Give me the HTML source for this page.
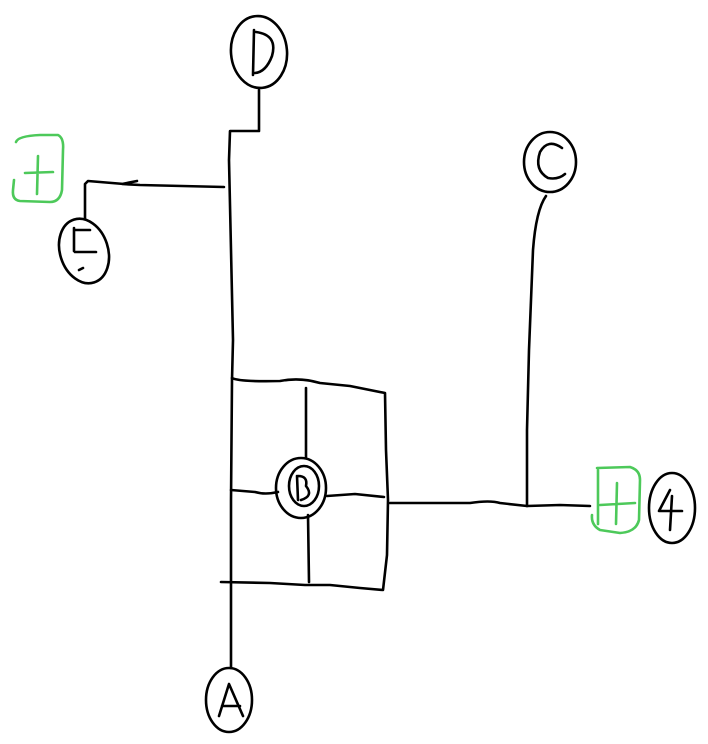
<!DOCTYPE html>
<html><head><style>html,body{margin:0;padding:0;background:#fff}svg{display:block}</style></head>
<body>
<svg width="708" height="744" viewBox="0 0 708 744" xmlns="http://www.w3.org/2000/svg">
<g fill="none" stroke="#000" stroke-width="2.6" stroke-linecap="round" stroke-linejoin="round">
<!-- D -->
<ellipse cx="259" cy="52" rx="28" ry="36" transform="rotate(-5 259 52)"/>
<path d="M254 30 L253 75 M256 32 Q278 35 272 56 Q266 72 255 73"/>
<path d="M259 90 L259 131 L230 131 L229 160 L231 250 L233 340 L232 380 L231 500 L231 600 L231 668"/>
<!-- to E -->
<path d="M224 187 L140 185 L122 184 L137 181 M124 184 L88 181 L85 184 L85 218"/>
<ellipse cx="84" cy="251" rx="24" ry="33" transform="rotate(-18 84 251)"/>
<path d="M74 228 L74 251 M74 230 L90 230 M75 252 L96 252 M79 270 L83 268"/>
<!-- C -->
<ellipse cx="550" cy="162" rx="26" ry="30"/>
<path d="M562 148 Q548 138 540 152 Q534 170 548 178 Q558 180 565 174"/>
<path d="M546 196 Q536 210 533 250 L529 350 L527 430 L527 506"/>
<!-- grid -->
<path d="M232 378 Q240 382 280 381 Q300 377 320 383 L350 386 L385 393 L386 450 L388 500 L387 555 L383 590 L360 588 L330 585 L305 585 L270 583 L221 582"/>
<path d="M231 490 L255 492 Q265 495 278 492"/>
<path d="M327 496 L355 494 L384 497"/>
<path d="M306 388 L306 458"/>
<path d="M308 515 L309 582"/>
<ellipse cx="301" cy="488" rx="25" ry="30"/>
<ellipse cx="304" cy="486" rx="15" ry="20"/>
<path d="M297 476 L298 500 M298 476 Q308 476 306 486 Q314 496 301 500"/>
<!-- right connector -->
<path d="M390 503 L420 503 L470 503 Q490 500 500 503 L527 506 L560 505 L590 506"/>
<!-- A -->
<ellipse cx="229" cy="700" rx="23" ry="32"/>
<path d="M219 716 L229 684 L243 716 M222 706 L240 706"/>
<!-- 4 -->
<ellipse cx="672" cy="508" rx="23" ry="35"/>
<path d="M670 490 L659 511 L682 511 M672 496 L670 530"/>
</g>
<g fill="none" stroke="#4dc95a" stroke-width="2.6" stroke-linecap="round" stroke-linejoin="round">
<path d="M16 142 Q18 136 40 135 L58 135 Q64 138 63 150 L62 190 Q60 202 50 202 L20 201 Q12 200 13 190 L14 180"/>
<path d="M25 173 L53 172 M38 156 L37 194"/>
<path d="M597 468 L630 467 Q640 470 640 480 L639 520 Q636 532 620 533 L600 530 Q591 525 592 515 M598 470 L598 524 M600 505 L635 503 M617 483 L616 524"/>
</g>
</svg>
</body></html>
